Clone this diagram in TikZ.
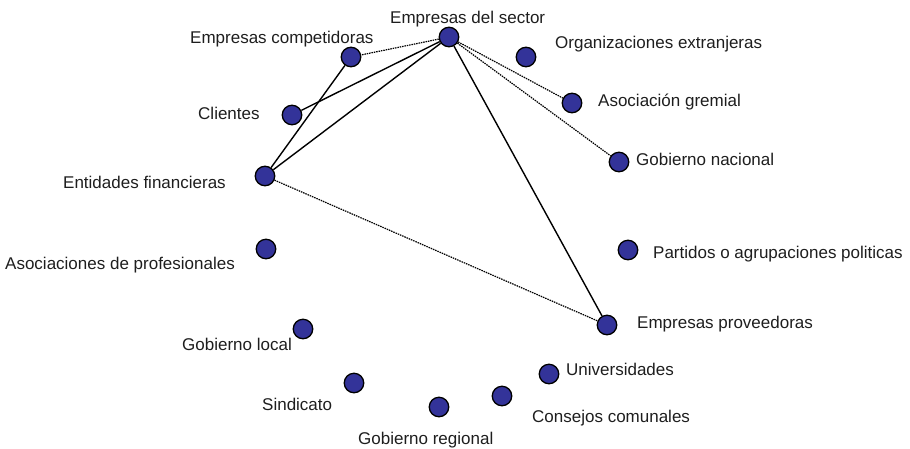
\documentclass[tikz,border=0pt]{standalone}
\usepackage{fontspec}
\setmainfont{Liberation Sans}
\definecolor{dotblue}{RGB}{51,51,153}
\definecolor{txt}{RGB}{30,30,30}
\tikzset{
  actor/.style={circle,draw=black,line width=1.3pt,fill=dotblue,minimum size=19.5pt,inner sep=0pt},
  lbl/.style={anchor=base west,inner sep=0pt,text=txt,font=\fontsize{17}{20}\selectfont},
  strong/.style={line width=1.4pt,black},
  weak/.style={line width=1.2pt,black,dash pattern=on 1.5pt off 0.9pt}
}
\begin{document}
\begin{tikzpicture}[x=1pt,y=-1pt]
\useasboundingbox (0,0) rectangle (910,448);
% actors
\node[actor] (sector) at (449,37) {};
\node[actor] (comp) at (351,57) {};
\node[actor] (clientes) at (292,115) {};
\node[actor] (entidades) at (265,176) {};
\node[actor] (org) at (526,57) {};
\node[actor] (gremial) at (572,103) {};
\node[actor] (nacional) at (619,162) {};
\node[actor] (asocprof) at (266,249) {};
\node[actor] (partidos) at (628,250) {};
\node[actor] (prov) at (607,325) {};
\node[actor] (local) at (303,329) {};
\node[actor] (sindicato) at (354,383) {};
\node[actor] (regional) at (439,407) {};
\node[actor] (consejos) at (502,396) {};
\node[actor] (univ) at (549,374) {};
% labels
\node[lbl] (lsector) at (390,23) {Empresas del sector};
\node[lbl] (lcomp) at (190,43) {Empresas competidoras};
\node[lbl] (lclientes) at (198,119) {Clientes};
\node[lbl] (lentidades) at (63,188) {Entidades financieras};
\node[lbl] (lorg) at (555,48) {Organizaciones extranjeras};
\node[lbl] (lgremial) at (598,106) {Asociación gremial};
\node[lbl] (lnacional) at (636,165) {Gobierno nacional};
\node[lbl] (lasocprof) at (5,269) {Asociaciones de profesionales};
\node[lbl] (lpartidos) at (653,258) {Partidos o agrupaciones politicas};
\node[lbl] (lprov) at (637,328) {Empresas proveedoras};
\node[lbl] (llocal) at (182,350) {Gobierno local};
\node[lbl] (lsindicato) at (262,410) {Sindicato};
\node[lbl] (lregional) at (358,444) {Gobierno regional};
\node[lbl] (lconsejos) at (532,422) {Consejos comunales};
\node[lbl] (luniv) at (566,375) {Universidades};
% links
\draw[strong] (comp) -- (entidades);
\draw[strong] (clientes) -- (sector);
\draw[strong] (entidades) -- (sector);
\draw[strong] (sector) -- (prov);
\draw[weak] (sector) -- (comp);
\draw[weak] (sector) -- (gremial);
\draw[weak] (sector) -- (nacional);
\draw[weak] (entidades) -- (prov);
\end{tikzpicture}
\end{document}
